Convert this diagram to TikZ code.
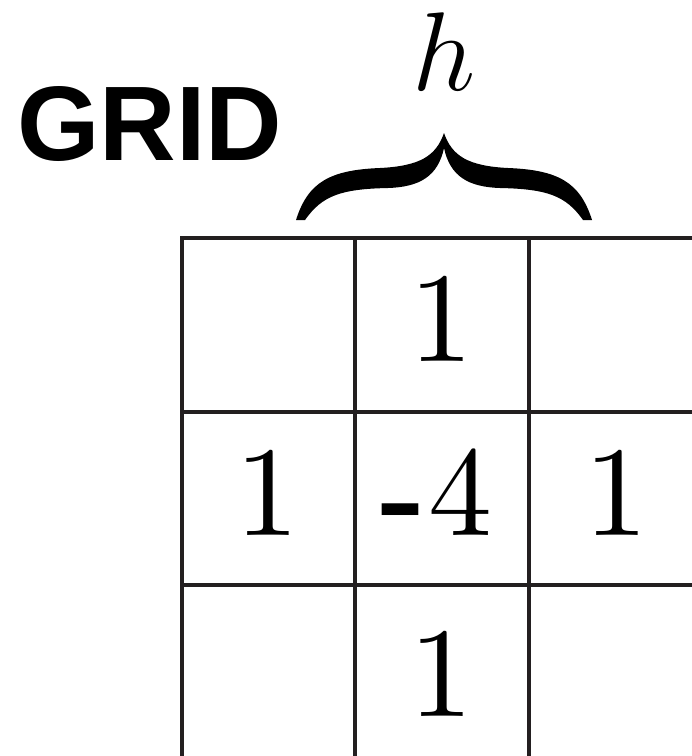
\documentclass[tikz,border=0pt]{standalone}
\usepackage{fix-cm}
\usepackage{fontspec}
\newfontfamily\hv{Liberation Sans}
\newfontfamily\lmten{lmroman10-regular.otf}
\definecolor{gridink}{HTML}{231F20}
\tikzset{
  gridline/.style={draw=gridink, line width=4.5pt, line join=miter},
  cellnum/.style={inner sep=0pt, anchor=base, font=\lmten\fontsize{128}{128}\selectfont},
  bracefill/.style={fill=black, draw=none}
}
\begin{document}
\begin{tikzpicture}[x=1pt, y=-1pt]
\useasboundingbox (0,0) rectangle (692,756);
% title
\node[inner sep=0pt, anchor=base west, font=\hv\bfseries\fontsize{106}{106}\selectfont] (title) at (17,160) {GRID};
% label h
\node[inner sep=0pt, anchor=base, font=\fontsize{112}{112}\selectfont] (hlabel) at (444,90) {$h$};
% brace
\path[bracefill] (296,220) .. controls (308,182) and (330,170) .. (380,168)
  .. controls (420,166) and (436,156) .. (444,133)
  .. controls (452,156) and (468,166) .. (508,168)
  .. controls (558,170) and (580,182) .. (592,220)
  -- (583,220)
  .. controls (566,196) and (548,189) .. (500,188)
  .. controls (468,187) and (450,176) .. (444,148)
  .. controls (438,176) and (420,187) .. (388,188)
  .. controls (340,189) and (322,196) .. (305,220) -- cycle;
% grid
\draw[gridline] (182,770) -- (182,238) -- (710,238);
\draw[gridline] (355,770) -- (355,238);
\draw[gridline] (529,770) -- (529,238);
\draw[gridline] (182,412) -- (710,412);
\draw[gridline] (182,585) -- (710,585);
% cell entries
\node[cellnum] (top) at (441.5,361) {1};
\node[cellnum] (left) at (267,535) {1};
\node[cellnum] (right) at (616,535) {1};
\node[cellnum] (bottom) at (441.5,716) {1};
\node[inner sep=0pt, anchor=base west] (center) at (375,535)
  {{\hv\fontsize{150}{150}\selectfont\raisebox{-14pt}{-}}\kern3.4pt{\lmten\fontsize{128}{128}\selectfont 4}};
\end{tikzpicture}
\end{document}
